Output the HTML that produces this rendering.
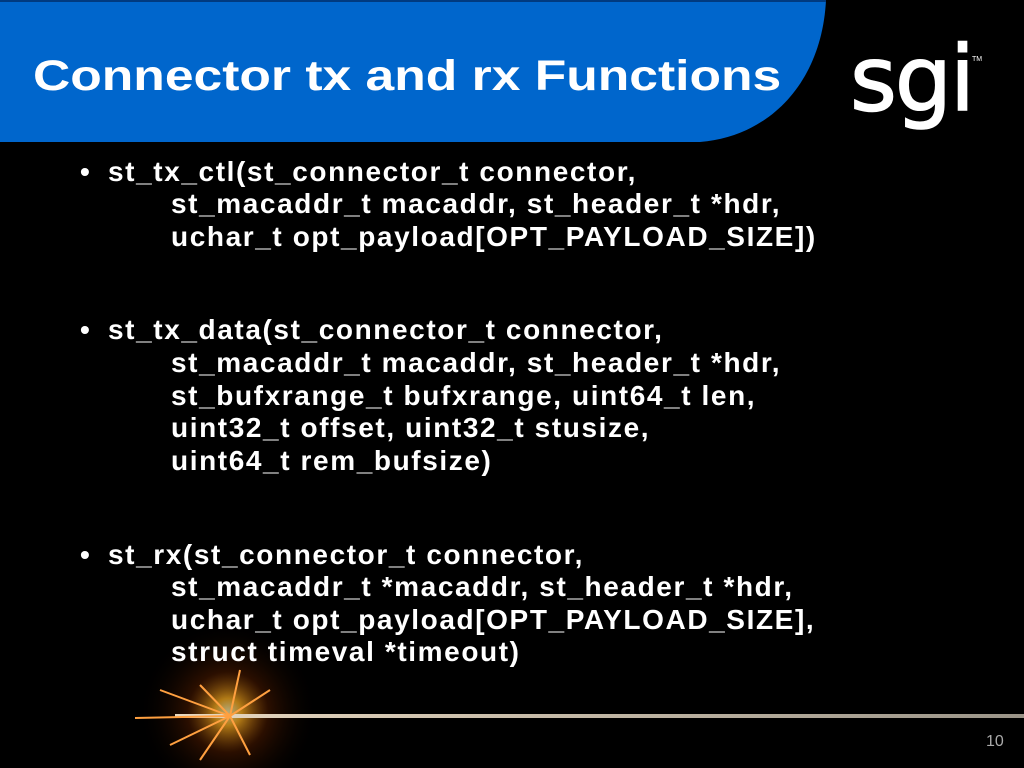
<!DOCTYPE html>
<html style="overflow:hidden"><head><meta charset="utf-8"><style>
html,body{margin:0;width:1024px;height:768px;overflow:hidden}
body{background:#000;position:relative;font-family:"Liberation Sans",Arial,sans-serif}
.t{position:absolute;color:#fff;font-size:28px;font-weight:bold;letter-spacing:1.6px;white-space:nowrap;line-height:32px}
</style></head><body>
<svg width="1024" height="768" style="position:absolute;left:0;top:0">
<defs>
<radialGradient id="g" cx="0.5" cy="0.5" r="0.5">
<stop offset="0" stop-color="#fff3b0"/><stop offset="0.15" stop-color="#ffb020"/><stop offset="0.45" stop-color="#7a2a00" stop-opacity="0.5"/><stop offset="1" stop-color="#000" stop-opacity="0"/></radialGradient>
<linearGradient id="l" x1="0" x2="1"><stop offset="0" stop-color="#e8d8c0"/><stop offset="1" stop-color="#9a9488"/></linearGradient>
</defs>
<path d="M0,0 H826 C822,80 772,136 700,142 H0 Z" fill="#0066cc"/>
<rect x="0" y="0" width="826" height="2" fill="#003a80"/>
<circle cx="228" cy="712" r="90" fill="url(#g)" opacity="0.7"/>
<rect x="175" y="714" width="849" height="4" fill="url(#l)"/>
<g stroke="#ffa040" stroke-width="2">
<line x1="230" y1="716" x2="160" y2="690"/><line x1="230" y1="716" x2="170" y2="745"/><line x1="230" y1="716" x2="200" y2="760"/><line x1="230" y1="716" x2="250" y2="755"/><line x1="230" y1="716" x2="270" y2="690"/><line x1="230" y1="716" x2="200" y2="685"/><line x1="230" y1="716" x2="135" y2="718"/><line x1="230" y1="716" x2="240" y2="670"/>
</g>
</svg>
<div style="position:absolute;left:33px;top:52px;color:#fff;font-size:43px;font-weight:bold;white-space:nowrap;transform:scaleX(1.2);transform-origin:left top">Connector tx and rx Functions</div>
<div style="position:absolute;left:850px;top:30px;color:#fff;font-size:90px;line-height:100px;font-family:'DejaVu Sans',sans-serif;-webkit-text-stroke:1.5px #fff;letter-spacing:-2px">sgi</div>
<div style="position:absolute;left:972px;top:56px;color:#fff;font-size:7px">TM</div>
<div class="t" style="left:80px;top:156px">•</div>
<div class="t" style="left:108px;top:156px">st_tx_ctl(st_connector_t connector,</div>
<div class="t" style="left:171px;top:188px">st_macaddr_t macaddr, st_header_t *hdr,</div>
<div class="t" style="left:171px;top:221px">uchar_t opt_payload[OPT_PAYLOAD_SIZE])</div>
<div class="t" style="left:80px;top:314px">•</div>
<div class="t" style="left:108px;top:314px">st_tx_data(st_connector_t connector,</div>
<div class="t" style="left:171px;top:347px">st_macaddr_t macaddr, st_header_t *hdr,</div>
<div class="t" style="left:171px;top:380px">st_bufxrange_t bufxrange, uint64_t len,</div>
<div class="t" style="left:171px;top:412px">uint32_t offset, uint32_t stusize,</div>
<div class="t" style="left:171px;top:445px">uint64_t rem_bufsize)</div>
<div class="t" style="left:80px;top:539px">•</div>
<div class="t" style="left:108px;top:539px">st_rx(st_connector_t connector,</div>
<div class="t" style="left:171px;top:571px">st_macaddr_t *macaddr, st_header_t *hdr,</div>
<div class="t" style="left:171px;top:604px">uchar_t opt_payload[OPT_PAYLOAD_SIZE],</div>
<div class="t" style="left:171px;top:636px">struct timeval *timeout)</div>
<div style="position:absolute;left:986px;top:733px;color:#aaa;font-size:16px">10</div>
</body></html>
